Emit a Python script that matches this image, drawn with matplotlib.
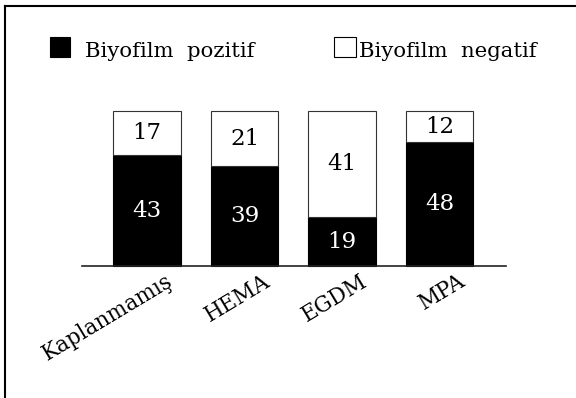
import matplotlib
matplotlib.use("Agg")
import matplotlib.pyplot as plt
from matplotlib.patches import Rectangle
from matplotlib.lines import Line2D
from matplotlib.transforms import ScaledTranslation

# Data
categories = ["Kaplanmamış", "HEMA", "EGDM", "MPA"]
positive = [43, 39, 19, 48]
negative = [17, 21, 41, 12]
legend_labels = ["Biyofilm  pozitif", "Biyofilm  negatif"]

FONT = "DejaVu Serif"
W, H = 576, 398

fig = plt.figure(figsize=(W / 100, H / 100), dpi=100)
fig.patch.set_facecolor("white")

ax = fig.add_axes([81.7 / W, (H - 266) / H, (506 - 81.7) / W, (266 - 111.5) / H])
x = list(range(len(categories)))
bw = 0.69

ax.bar(x, positive, width=bw, color="black", edgecolor="black", linewidth=0.8, clip_on=False)
ax.bar(x, negative, width=bw, bottom=positive, color="white", edgecolor="#333333",
       linewidth=0.8, clip_on=False)

for i, (p, n) in enumerate(zip(positive, negative)):
    ax.text(i, p / 2, str(p), ha="center", va="center", color="white",
            fontsize=16.5, family=FONT)
    ax.text(i, p + n / 2, str(n), ha="center", va="center", color="black",
            fontsize=16.5, family=FONT)

ax.set_xlim(-0.67, 3.68)
ax.set_ylim(0, 60)
for side in ("top", "right", "left"):
    ax.spines[side].set_visible(False)
ax.spines["bottom"].set_color("#222222")
ax.spines["bottom"].set_linewidth(1.2)
ax.set_yticks([])
ax.set_xticks(x)
ax.set_xticklabels(categories, rotation=31, ha="right", va="top",
                   rotation_mode="anchor", fontsize=15.5, family=FONT)
ax.tick_params(axis="x", length=0, pad=3)
shift = ScaledTranslation(18 / 100, 0, fig.dpi_scale_trans)
for lbl in ax.get_xticklabels():
    lbl.set_transform(lbl.get_transform() + shift)

# Legend drawn in figure pixel space
def px(xp, yp):
    return xp / W, 1 - yp / H

fig.add_artist(Rectangle(px(50, 57), 20 / W, 20 / H, transform=fig.transFigure,
                         facecolor="black", edgecolor="black", linewidth=0.8))
fig.text(*px(85, 56.7), legend_labels[0], ha="left", va="baseline",
         fontsize=15.3, family=FONT)
fig.add_artist(Rectangle(px(334, 57), 22 / W, 20 / H, transform=fig.transFigure,
                         facecolor="white", edgecolor="black", linewidth=0.8))
fig.text(*px(359, 56.7), legend_labels[1], ha="left", va="baseline",
         fontsize=15.3, family=FONT)

# Outer frame
fig.add_artist(Line2D([4.5 / W, 4.5 / W], [0, 1 - 5.5 / H], transform=fig.transFigure,
                      color="black", linewidth=1.5))
fig.add_artist(Line2D([4.5 / W, 1], [1 - 5.5 / H, 1 - 5.5 / H], transform=fig.transFigure,
                      color="black", linewidth=1.5))

fig.savefig("out.png", dpi=100, facecolor="white")
